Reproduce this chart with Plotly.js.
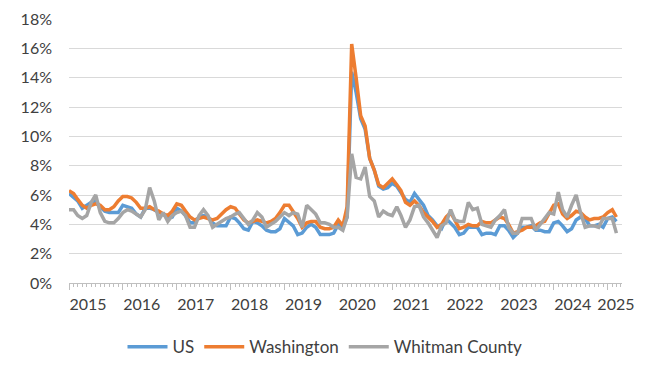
<!DOCTYPE html>
<html>
<head>
<meta charset="utf-8">
<script src="https://cdn.plot.ly/plotly-3.0.1.min.js"></script>
<style>
  html, body { margin: 0; padding: 0; background: #ffffff; }
  #chart { width: 650px; height: 372px; }
</style>
</head>
<body>
<div id="chart"></div>
<script>
// Monthly unemployment rate (%), January 2015 – March 2025
const startYear = 2015;
const yearTicks = ['2015','2016','2017','2018','2019','2020','2021','2022','2023','2024','2025'];

const usRate = [
  6.1,5.8,5.6,5.1,5.3,5.5,5.6,5.2,4.9,4.8,4.8,4.8,   // 2015
  5.3,5.2,5.1,4.7,4.5,5.1,5.1,5.0,4.8,4.7,4.4,4.5,   // 2016
  5.1,4.9,4.6,4.1,4.1,4.5,4.6,4.5,4.1,3.9,3.9,3.9,   // 2017
  4.5,4.4,4.1,3.7,3.6,4.2,4.1,3.9,3.6,3.5,3.5,3.7,   // 2018
  4.4,4.1,3.9,3.3,3.4,3.8,4.0,3.8,3.3,3.3,3.3,3.4,   // 2019
  4.0,3.8,4.5,14.4,13.0,11.2,10.5,8.5,7.7,6.6,6.4,6.5, // 2020
  6.8,6.6,6.2,5.7,5.5,6.1,5.7,5.3,4.6,4.3,3.9,3.7,   // 2021
  4.4,4.1,3.8,3.3,3.4,3.8,3.8,3.8,3.3,3.4,3.4,3.3,   // 2022
  3.9,3.9,3.6,3.1,3.4,3.8,3.8,3.9,3.6,3.6,3.5,3.5,   // 2023
  4.1,4.2,3.9,3.5,3.7,4.3,4.5,4.4,3.9,3.9,4.0,3.8,   // 2024
  4.4,4.5,4.2                                        // 2025
];

const waRate = [
  6.3,6.1,5.7,5.3,5.1,5.3,5.4,5.3,5.0,5.0,5.2,5.6,   // 2015
  5.9,5.9,5.8,5.5,5.1,5.1,5.2,5.0,4.9,4.7,4.6,4.9,   // 2016
  5.4,5.3,4.9,4.5,4.3,4.4,4.5,4.4,4.3,4.4,4.7,5.0,   // 2017
  5.2,5.1,4.7,4.3,4.1,4.2,4.3,4.2,4.1,4.2,4.4,4.8,   // 2018
  5.3,5.3,4.9,4.4,3.8,4.1,4.2,4.2,3.8,3.7,3.7,3.8,   // 2019
  4.3,3.9,5.2,16.3,14.0,11.4,10.7,8.5,7.7,6.7,6.5,6.8, // 2020
  7.1,6.7,6.3,5.5,5.3,5.6,5.3,4.8,4.5,4.2,3.8,4.0,   // 2021
  4.5,4.8,4.3,3.7,3.8,4.0,3.9,3.9,4.2,4.1,4.1,4.3,   // 2022
  4.5,4.4,4.0,3.4,3.5,3.6,3.8,3.8,3.9,4.1,4.2,4.7,   // 2023
  5.3,5.4,4.7,4.4,4.6,4.9,4.8,4.5,4.3,4.4,4.4,4.5,   // 2024
  4.8,5.0,4.5                                        // 2025
];

const whitmanRate = [
  5.0,5.0,4.6,4.4,4.6,5.5,6.0,4.8,4.2,4.1,4.1,4.4,   // 2015
  4.8,5.0,4.9,4.7,4.5,5.0,6.5,5.6,4.3,4.8,4.2,4.6,   // 2016
  4.8,4.9,4.6,3.8,3.8,4.6,5.0,4.6,3.8,4.0,4.2,4.4,   // 2017
  4.5,4.7,4.8,4.4,4.0,4.3,4.8,4.5,3.8,4.0,4.2,4.5,   // 2018
  4.8,4.6,4.8,4.7,3.8,5.3,5.0,4.7,4.1,4.1,4.0,3.8,   // 2019
  3.8,3.6,4.5,8.8,7.2,7.1,7.9,5.9,5.6,4.5,4.9,4.7,   // 2020
  4.6,5.2,4.6,3.8,4.3,5.2,5.3,4.5,4.1,3.6,3.1,3.9,   // 2021
  4.1,5.0,4.3,4.2,4.2,5.5,5.0,5.1,4.0,3.9,3.8,4.3,   // 2022
  4.6,5.0,3.8,3.4,3.4,4.4,4.4,4.4,3.6,4.0,4.4,4.8,   // 2023
  4.7,6.2,5.0,4.5,5.3,6.0,4.8,3.8,3.9,3.9,3.8,4.4,   // 2024
  4.4,4.4,3.4                                        // 2025
];

const seriesNames = ['US', 'Washington', 'Whitman County'];
const seriesColors = ['#5B9BD5', '#ED7D31', '#A5A5A5'];

// month dates for the category axis
const months = usRate.map((_, i) => {
  const y = startYear + Math.floor(i / 12);
  const m = (i % 12) + 1;
  return y + '-' + String(m).padStart(2, '0') + '-01';
});

const allSeries = [usRate, waRate, whitmanRate];
const traces = allSeries.map((vals, k) => ({
  type: 'scatter',
  mode: 'lines',
  name: seriesNames[k],
  x: months,
  y: vals,
  xaxis: 'x',
  line: { color: seriesColors[k], width: 3.5 },
  hoverinfo: 'x+y+name'
}));

// empty helper trace so the label axis is drawn
traces.push({
  type: 'scatter', mode: 'lines', x: [], y: [], xaxis: 'x2', yaxis: 'y',
  showlegend: false, hoverinfo: 'skip'
});

const font = { family: 'Lato, "Open Sans", sans-serif', size: 16, color: '#404040' };
const legendFont = { family: 'Lato, "Open Sans", sans-serif', size: 17, color: '#404040' };

// year label positions: each label sits just right of its year tick;
// the last one is pulled back inside the chart edge
const labelDates = yearTicks.map((y, i) => i === yearTicks.length - 1 ? '2024-10-20' : y + '-01-01');

const xRange = ['2015-01-01', '2025-04-08'];

const layout = {
  width: 650,
  height: 372,
  margin: { l: 69, r: 28, t: 19, b: 89 },
  paper_bgcolor: '#ffffff',
  plot_bgcolor: '#ffffff',
  font: font,
  showlegend: true,
  legend: {
    orientation: 'h',
    xref: 'container',
    yref: 'container',
    x: 0.5,
    xanchor: 'center',
    y: 0.067,
    yanchor: 'middle',
    font: legendFont,
    itemwidth: 40,
    traceorder: 'normal'
  },
  xaxis: {
    type: 'date',
    range: xRange,
    tickvals: yearTicks.map(y => y + '-01-01'),
    showticklabels: false,
    showgrid: false,
    zeroline: false,
    showline: true,
    linecolor: '#BFBFBF',
    linewidth: 1,
    ticks: 'outside',
    ticklen: 6,
    tickcolor: '#BFBFBF',
    tickwidth: 1,
    minor: {
      dtick: 'M1',
      tick0: '2015-01-01',
      ticks: 'outside',
      ticklen: 3,
      tickcolor: '#BFBFBF',
      tickwidth: 1,
      showgrid: false
    },
    fixedrange: true
  },
  xaxis2: {
    type: 'date',
    range: xRange,
    overlaying: 'x',
    anchor: 'y',
    side: 'bottom',
    tickvals: labelDates,
    ticktext: yearTicks,
    ticklabelshift: 19,
    ticklabelstandoff: 10,
    ticks: '',
    showline: false,
    showgrid: false,
    zeroline: false,
    tickfont: font,
    fixedrange: true
  },
  yaxis: {
    range: [0, 18],
    dtick: 2,
    tick0: 0,
    ticksuffix: '%',
    showgrid: true,
    gridcolor: '#D9D9D9',
    gridwidth: 1,
    zeroline: false,
    showline: false,
    ticks: '',
    ticklabelstandoff: 16,
    tickfont: font,
    fixedrange: true
  }
};

Plotly.newPlot('chart', traces, layout, { displayModeBar: false, staticPlot: true });
</script>
</body>
</html>
